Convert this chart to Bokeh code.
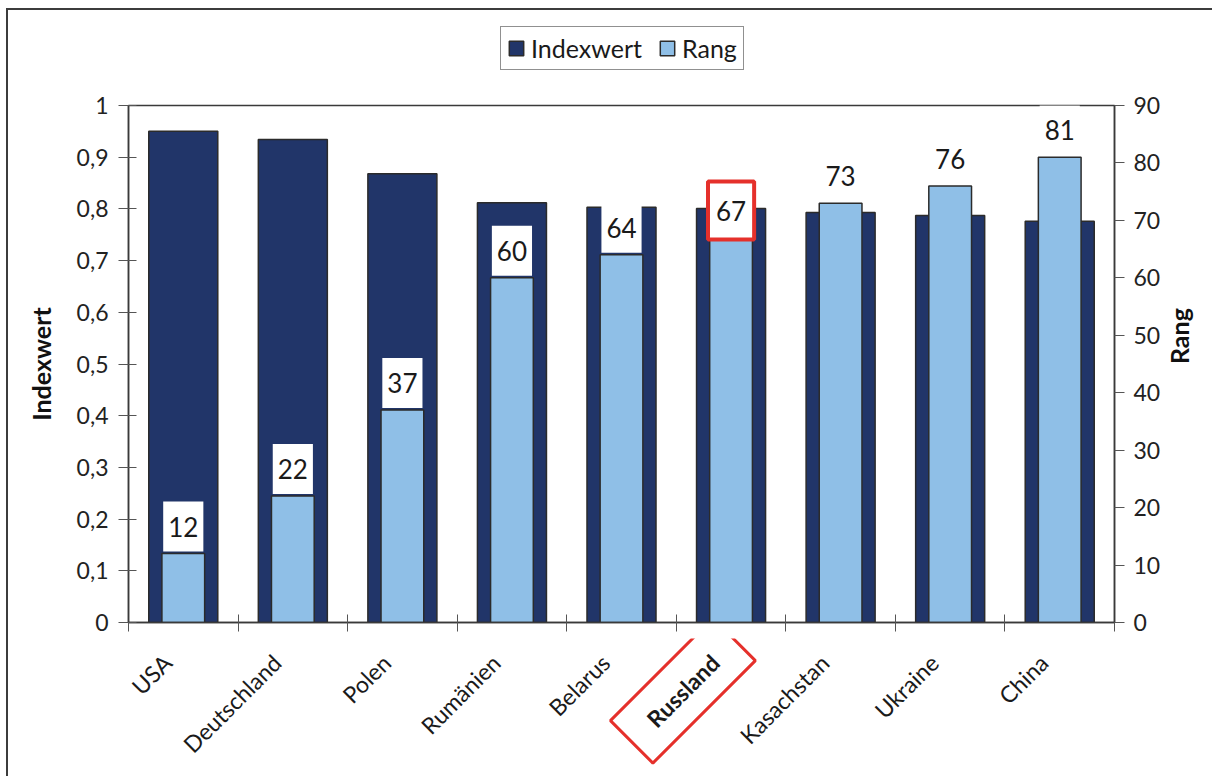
from math import pi, sqrt

from bokeh.core.properties import value
from bokeh.embed import file_html
from bokeh.layouts import column
from bokeh.models import (ColumnDataSource, FixedTicker, Label, Legend,
                          LegendItem, LinearAxis, Range1d)
from bokeh.plotting import figure
from bokeh.resources import INLINE

# --- data -------------------------------------------------------------------
countries = ["USA", "Deutschland", "Polen", "Rumänien", "Belarus",
             "Russland", "Kasachstan", "Ukraine", "China"]
indexwert = [0.950, 0.934, 0.868, 0.812, 0.803, 0.801, 0.793, 0.787, 0.776]
rang = [12, 22, 37, 60, 64, 67, 73, 76, 81]
highlight = "Russland"

index_ticks = [0, 0.1, 0.2, 0.3, 0.4, 0.5, 0.6, 0.7, 0.8, 0.9, 1]
index_tick_labels = ["0", "0,1", "0,2", "0,3", "0,4", "0,5",
                     "0,6", "0,7", "0,8", "0,9", "1"]
rang_ticks = [0, 10, 20, 30, 40, 50, 60, 70, 80, 90]

# --- style ------------------------------------------------------------------
FONT = "Lato"
DARK = "#213569"
LIGHT = "#8fbfe7"
EDGE = "#2b2b2b"
RED = "#e5302b"
AXIS = "#3a3a3a"

W = 1204                 # width of every panel
LEFT, RIGHT = 120, 98    # space beside the plotting frame
LEGEND_H = 80            # strip holding the legend
TOP, BOTTOM = 15, 16     # main chart borders above / below the frame
FRAME_H = 517
NAMES_H = 138            # strip holding the category names

n = len(countries)
xs = [i + 0.5 for i in range(n)]
x_range = Range1d(0, n)

bars = ColumnDataSource(dict(x=xs, country=countries, indexwert=indexwert, rang=rang))


def bare(height):
    """A figure without axes whose frame lines up with the main chart."""
    f = figure(width=W, height=height, x_range=x_range, y_range=Range1d(-height, 0),
               output_backend="svg", toolbar_location=None,
               x_axis_location=None, y_axis_location=None,
               min_border_left=LEFT, min_border_right=RIGHT,
               min_border_top=0, min_border_bottom=0)
    f.grid.visible = False
    f.outline_line_color = None
    return f


# --- main chart -------------------------------------------------------------
p = figure(width=W, height=TOP + FRAME_H + BOTTOM,
           x_range=x_range, y_range=Range1d(0, 1),
           output_backend="svg", toolbar_location=None,
           min_border_left=LEFT, min_border_top=TOP,
           min_border_right=RIGHT, min_border_bottom=BOTTOM)
p.extra_y_ranges = {"rang": Range1d(0, rang_ticks[-1])}
p.grid.visible = False
p.outline_line_color = AXIS
p.outline_line_width = 1.5

p.vbar(x="x", top="indexwert", width=0.63, source=bars,
       fill_color=DARK, line_color=EDGE, line_width=1.5)
p.vbar(x="x", top="rang", width=0.39, source=bars, y_range_name="rang",
       fill_color=LIGHT, line_color=EDGE, line_width=1.5)

# left axis: Indexwert
ly = p.yaxis[0]
ly.ticker = FixedTicker(ticks=index_ticks)
ly.major_label_overrides = dict(zip(index_ticks, index_tick_labels))
ly.minor_tick_line_color = None
ly.major_tick_in = 8
ly.major_tick_out = 10
ly.major_label_standoff = 10
ly.major_label_text_font = FONT
ly.major_label_text_font_size = "23px"
ly.major_label_text_color = "#222222"
ly.axis_label = "Indexwert"
ly.axis_label_text_font = FONT
ly.axis_label_text_font_style = "bold"
ly.axis_label_text_font_size = "25px"
ly.axis_label_text_color = "#111111"
ly.axis_label_standoff = 18
ly.axis_line_color = AXIS
ly.axis_line_width = 1.5
ly.major_tick_line_color = "#555555"

# right axis: Rang, title reading bottom to top
ry = LinearAxis(y_range_name="rang", ticker=FixedTicker(ticks=rang_ticks))
ry.minor_tick_line_color = None
ry.major_tick_in = 0
ry.major_tick_out = 10
ry.major_label_standoff = 9
ry.major_label_text_font = FONT
ry.major_label_text_font_size = "23px"
ry.major_label_text_color = "#222222"
ry.axis_label = "Rang"
ry.axis_label_orientation = pi / 2
ry.axis_label_text_align = "center"
ry.axis_label_text_font = FONT
ry.axis_label_text_font_style = "bold"
ry.axis_label_text_font_size = "25px"
ry.axis_label_text_color = "#111111"
ry.axis_label_standoff = 16
ry.axis_line_color = AXIS
ry.axis_line_width = 1.5
ry.major_tick_line_color = "#555555"
p.add_layout(ry, "right")

# bottom axis: ticks between the categories, names drawn in the strip below
bx = p.xaxis[0]
bx.ticker = FixedTicker(ticks=list(range(n + 1)))
bx.major_label_overrides = {i: "" for i in range(n + 1)}
bx.major_label_text_font_size = "1px"
bx.major_label_standoff = 0
bx.minor_tick_line_color = None
bx.major_tick_in = 8
bx.major_tick_out = 9
bx.axis_line_color = AXIS
bx.axis_line_width = 1.5
bx.major_tick_line_color = "#555555"

# rank values in white boxes above the light bars
for x, name, r in zip(xs, countries, rang):
    is_hi = name == highlight
    p.add_layout(Label(x=x, y=r, y_range_name="rang", text=str(r),
                       y_offset=27, text_align="center", text_baseline="middle",
                       text_font=FONT, text_font_size="26px", text_color="#1a1a1a",
                       background_fill_color="white",
                       border_line_color=RED if is_hi else None,
                       border_line_width=4,
                       padding=(8, 19) if is_hi else (5, 15)))

# --- legend strip -------------------------------------------------------------
top = bare(LEGEND_H)
nan = float("nan")
key_dark = top.vbar(x=[nan], top=[nan], width=0.63,
                    fill_color=DARK, line_color=EDGE, line_width=1.5)
key_light = top.vbar(x=[nan], top=[nan], width=0.39,
                     fill_color=LIGHT, line_color=EDGE, line_width=1.5)
legend = Legend(items=[LegendItem(label="Indexwert", renderers=[key_dark]),
                       LegendItem(label="Rang", renderers=[key_light])],
                orientation="horizontal", location=(372, 20),
                label_text_font=FONT, label_text_font_size="25px",
                label_text_color="#1a1a1a", glyph_width=18, glyph_height=18,
                label_standoff=6, spacing=16, padding=6, margin=0,
                border_line_color="#222222", border_line_width=1.5,
                background_fill_color="white", background_fill_alpha=1.0)
top.add_layout(legend, "center")

# --- category names strip ---------------------------------------------------
names = bare(NAMES_H)
NAME_DX, NAME_DY = -16, 20       # text end relative to the category centre
BOX_PAD = (27, 16)               # padding of the highlighted name's frame
shift = BOX_PAD[0] / sqrt(2)     # box end sits one padding further along the text

plain = [i for i, c in enumerate(countries) if c != highlight]
hi = [i for i, c in enumerate(countries) if c == highlight]
names.text(x=[xs[i] for i in plain], y=[0] * len(plain),
           text=[countries[i] for i in plain],
           angle=pi / 4, x_offset=NAME_DX, y_offset=NAME_DY,
           text_align="right", text_baseline="middle",
           text_font=value(FONT), text_font_size="23px", text_color="#1a1a1a")
names.text(x=[xs[i] for i in hi], y=[0] * len(hi),
           text=[countries[i] for i in hi],
           angle=pi / 4, x_offset=NAME_DX + shift, y_offset=NAME_DY - shift,
           text_align="right", text_baseline="middle",
           text_font=value(FONT), text_font_size="23px", text_font_style="bold",
           text_color="#1a1a1a",
           border_line_color=RED, border_line_width=3, padding=BOX_PAD)

page = column(top, p, names, spacing=0)
page.margin = (8, 0, 0, 6)
page.styles = {"border-left": "2px solid #3c3c3c", "border-top": "2px solid #3c3c3c"}

open("out.html", "w").write(file_html(page, INLINE))
